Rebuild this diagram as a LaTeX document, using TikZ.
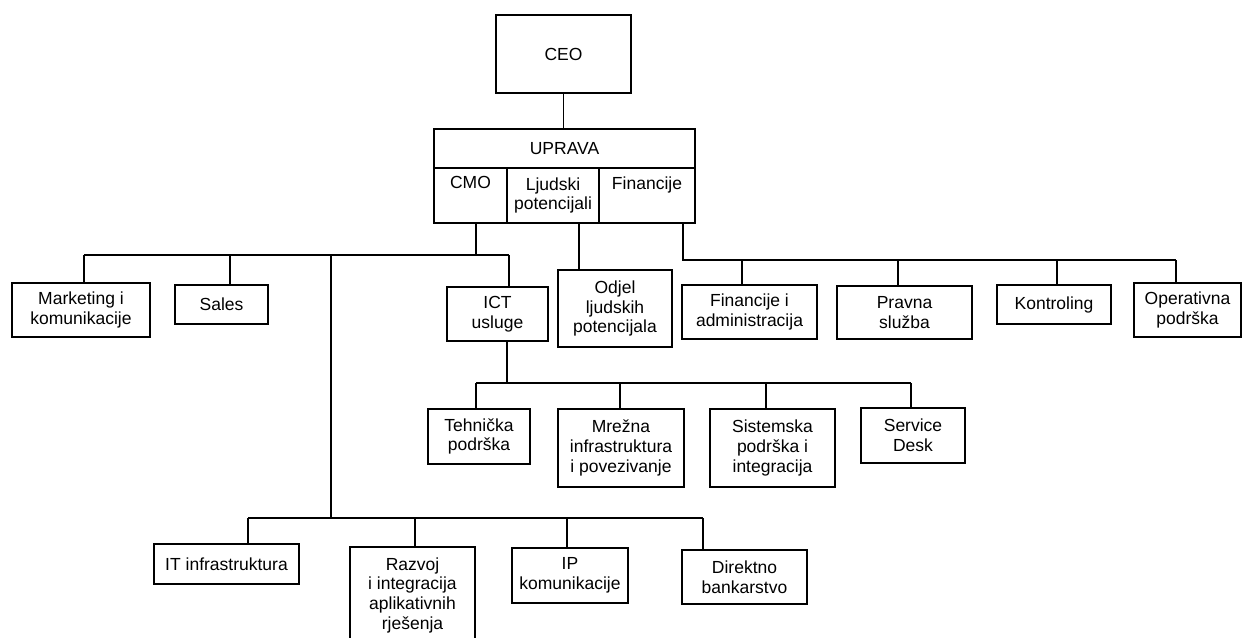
\documentclass[tikz,border=0pt]{standalone}
\usepackage{fontspec}
\setmainfont{Liberation Sans}

\begin{document}
\begin{tikzpicture}[x=0.6pt,y=-0.6pt,line width=0.8pt,
        box/.style={draw,align=center,inner sep=0pt,font=\fontsize{10.5}{11.8}\selectfont},
        sz/.style 2 args={minimum width=#1*0.6pt,minimum height=#2*0.6pt}]
        \useasboundingbox (0,0) rectangle (1242,637);
        % top
        \node[box,sz={135}{78}] (ceo) at (563.5,54) {CEO};
        \node[box,sz={261}{39}] (uprava) at (564.5,148.5) {UPRAVA};
        \node[box,sz={73}{55}] (cmo) at (470.5,195.5) {CMO\\\strut};
        \node[box,sz={92}{55}] (ljud) at (553,195.5) {Ljudski\\potencijali};
        \node[box,sz={96}{55}] (fin) at (647,195.5) {Financije\\\strut};
        % second row
        \node[box,sz={138}{54}] (mark) at (81,310) {Marketing i\\komunikacije};
        \node[box,sz={93}{39}] (sales) at (221.5,304.5) {Sales};
        \node[box,sz={101}{54}] (ict) at (497.5,314) {ICT\\usluge};
        \node[box,sz={114}{77}] (odjel) at (615,308.5) {Odjel\\ljudskih\\potencijala};
        \node[box,sz={135}{54}] (finadm) at (749.5,312) {Financije i\\administracija};
        \node[box,sz={135}{53}] (pravna) at (904.5,312.5) {Pravna\\služba};
        \node[box,sz={114}{39}] (kontr) at (1054,304.5) {Kontroling};
        \node[box,sz={107}{54}] (oper) at (1187.5,310) {Operativna\\podrška};
        % ICT row
        \node[box,sz={102}{55}] (tehn) at (479,436.5) {Tehnička\\podrška};
        \node[box,sz={126}{78}] (mrez) at (621,448) {Mrežna\\infrastruktura\\i povezivanje};
        \node[box,sz={125}{78}] (sist) at (772.5,448) {Sistemska\\podrška i\\integracija};
        \node[box,sz={104}{55}] (desk) at (913,435.5) {Service\\Desk};
        % bottom row
        \node[box,sz={145}{40}] (itinf) at (226.5,564) {IT infrastruktura};
        \node[box,sz={125}{96}] (razvoj) at (412.5,595) {Razvoj\\i integracija\\aplikativnih\\rješenja};
        \node[box,sz={116}{55}] (ip) at (570,575.5) {IP\\komunikacije};
        \node[box,sz={125}{54}] (direkt) at (744.5,577) {Direktno\\bankarstvo};

        \coordinate (jcmo) at (476,255);
        \coordinate (jfin) at (683,260);
        \coordinate (jict) at (507,383);
        \coordinate (jit) at (331,518);

        \draw (ceo) -- (ceo |- uprava.north);
        \draw (579,0 |- ljud.south) -- (579,0 |- odjel.north);

        \draw (jcmo |- cmo.south) -- (jcmo);
        \draw (84,255) -- (509,255);
        \foreach \n/\x in {mark/84,sales/230,ict/509}
        {
            \draw (\x,255) -- (\x,0 |- \n.north);
        }
        \draw (331,255) -- (jit);

        \draw (jfin |- fin.south) -- (jfin) -- (1176,260);
        \foreach \n/\x in {finadm/742,pravna/898,kontr/1057,oper/1176}
        {
            \draw (\x,260) -- (\x,0 |- \n.north);
        }

        \draw (jict |- ict.south) -- (jict);
        \draw (476,383) -- (911,383);
        \foreach \n/\x in {tehn/476,mrez/620,sist/766,desk/911}
        {
            \draw (\x,383) -- (\x,0 |- \n.north);
        }

        \draw (248,518) -- (703,518);
        \foreach \n/\x in {itinf/248,razvoj/415,ip/567,direkt/703}
        {
            \draw (\x,518) -- (\x,0 |- \n.north);
        }
    \end{tikzpicture}
\end{document}
